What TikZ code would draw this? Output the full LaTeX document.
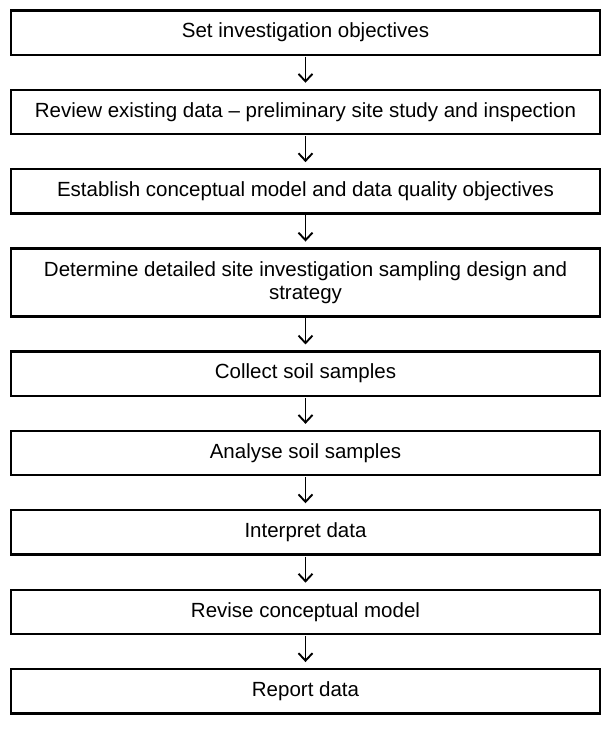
\documentclass[tikz,border=0pt]{standalone}
\usepackage{fontspec}
\setmainfont{Liberation Sans}
\usetikzlibrary{positioning, arrows.meta}

\begin{document}
\begin{tikzpicture}[stage/.style={rectangle, draw=black, line width=2.3pt, inner sep=0pt, outer sep=0pt, minimum width=589pt, minimum height=44.3pt, align=center, font=\fontsize{20.5}{23.5}\selectfont},
        tallstage/.style={stage, minimum height=67.8pt},
        flow/.style={-{Straight Barb[length=7.5pt, width=14pt]}, line width=1.9pt, shorten <=2pt, shorten >=7pt},
        node distance=35.1pt]
        \useasboundingbox (0,0) rectangle (612pt,-753pt);
        \node (objectives) [stage] at (305.5pt,-32.5pt) {Set investigation objectives};
        \node (review) [stage, below= of objectives] {Review existing data -- preliminary site study and inspection};
        \node (model) [stage, below= of review] {Establish conceptual model and data quality objectives};
        \node (design) [tallstage, below= of model] {Determine detailed site investigation sampling design and\\ strategy};
        \node (collect) [stage, below= of design] {Collect soil samples};
        \node (analyse) [stage, below= of collect] {Analyse soil samples};
        \node (interpret) [stage, below= of analyse] {Interpret data};
        \node (revise) [stage, below= of interpret] {Revise conceptual model};
        \node (report) [stage, below= of revise] {Report data};
        \draw[flow] (objectives) to (review);
        \draw[flow] (review) to (model);
        \draw[flow] (model) to (design);
        \draw[flow] (design) to (collect);
        \draw[flow] (collect) to (analyse);
        \draw[flow] (analyse) to (interpret);
        \draw[flow] (interpret) to (revise);
        \draw[flow] (revise) to (report);
		\end{tikzpicture}
\end{document}
